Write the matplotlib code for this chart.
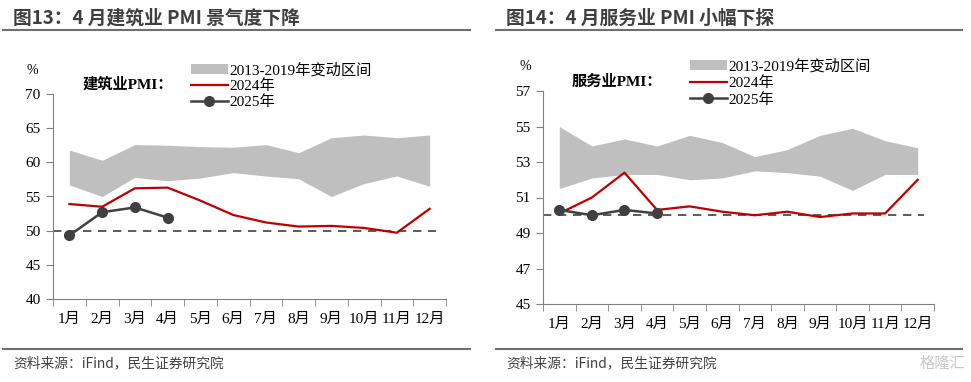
import matplotlib
matplotlib.use("Agg")
import matplotlib.pyplot as plt
import numpy as np
from matplotlib.lines import Line2D
from matplotlib.patches import Patch

plt.rcParams['font.family'] = ['Liberation Serif', 'Noto Sans CJK SC', 'DejaVu Sans']

months = ["1月", "2月", "3月", "4月", "5月", "6月", "7月", "8月", "9月", "10月", "11月", "12月"]

# 建筑业 PMI
con_hi = [61.8, 60.3, 62.6, 62.5, 62.3, 62.2, 62.6, 61.4, 63.6, 64.0, 63.6, 64.0]
con_lo = [56.7, 55.0, 57.8, 57.3, 57.7, 58.5, 58.0, 57.6, 55.0, 56.9, 58.0, 56.5]
con_2024 = [53.9, 53.5, 56.2, 56.3, 54.4, 52.3, 51.2, 50.6, 50.7, 50.4, 49.7, 53.2]
con_2025 = [49.3, 52.7, 53.4, 51.9]

# 服务业 PMI
ser_hi = [55.0, 53.9, 54.3, 53.9, 54.5, 54.1, 53.3, 53.7, 54.5, 54.9, 54.2, 53.8]
ser_lo = [51.5, 52.1, 52.3, 52.3, 52.0, 52.1, 52.5, 52.4, 52.2, 51.4, 52.3, 52.3]
ser_2024 = [50.1, 51.0, 52.4, 50.3, 50.5, 50.2, 50.0, 50.2, 49.9, 50.1, 50.1, 52.0]
ser_2025 = [50.3, 50.0, 50.3, 50.1]

threshold = 50

GRAY = "#bfbfbf"
RED = "#c00000"
DARK = "#404040"
W, H = 971, 382

fig = plt.figure(figsize=(W / 100, H / 100), dpi=100)


def px_axes(l, t, r, b):
    return fig.add_axes([l / W, 1 - b / H, (r - l) / W, (b - t) / H])


def draw_panel(ax, hi, lo, y24, y25, ylim, yticks):
    x = np.arange(len(months))
    ax.fill_between(x, lo, hi, color=GRAY, lw=0, zorder=1)
    ax.hlines(threshold, -0.5, 11.2, colors=DARK, linestyles=(0, (5, 4)), lw=1.2, zorder=2)
    ax.plot(x, y24, color=RED, lw=1.6, zorder=3)
    ax.plot(x[:len(y25)], y25, color=DARK, lw=1.8, marker="o", ms=7, zorder=4)
    ax.set_xlim(-0.5, 11.5)
    ax.set_ylim(*ylim)
    ax.set_yticks(yticks)
    ax.set_xticks(x)
    ax.set_xticklabels(months)
    ax.set_xticks(np.arange(-0.5, 12, 1), minor=True)
    ax.tick_params(axis="x", which="major", length=0, pad=10, labelsize=11)
    ax.tick_params(axis="x", which="minor", length=5, color="#808080", direction="out")
    ax.tick_params(axis="y", length=5, color="#808080", direction="out", labelsize=11, pad=4)
    for s in ["top", "right"]:
        ax.spines[s].set_visible(False)
    for s in ["left", "bottom"]:
        ax.spines[s].set_color("#808080")
    handles = [Patch(facecolor=GRAY, edgecolor="none"),
               Line2D([], [], color=RED, lw=1.6),
               Line2D([], [], color=DARK, lw=1.8, marker="o", ms=7)]
    labels = ["2013-2019年变动区间", "2024年", "2025年"]
    return handles, labels


# left panel
ax1 = px_axes(53, 94, 446, 299)
h, l = draw_panel(ax1, con_hi, con_lo, con_2024, con_2025, (40, 70), range(40, 71, 5))
fig.legend(h, l, loc="upper left", bbox_to_anchor=(191 / W, 1 - 63 / H), frameon=False,
           fontsize=11, handlelength=2.4, handletextpad=0.1, labelspacing=0.12, borderpad=0,
           borderaxespad=0)
fig.text(26 / W, 1 - 70 / H, "%", fontsize=10, va="center", ha="left")
fig.text(83 / W, 1 - 84 / H, "建筑业PMI：", fontsize=11, fontweight="bold", va="center", ha="left")

# right panel
ax2 = px_axes(543, 91, 934, 304)
h, l = draw_panel(ax2, ser_hi, ser_lo, ser_2024, ser_2025, (45, 57), range(45, 58, 2))
fig.legend(h, l, loc="upper left", bbox_to_anchor=(690 / W, 1 - 59 / H), frameon=False,
           fontsize=11, handlelength=2.4, handletextpad=0.1, labelspacing=0.18, borderpad=0,
           borderaxespad=0)
fig.text(519 / W, 1 - 67 / H, "%", fontsize=10, va="center", ha="left")
fig.text(572 / W, 1 - 82 / H, "服务业PMI：", fontsize=11, fontweight="bold", va="center", ha="left")

# titles, rules and sources
sans = ["Noto Sans CJK SC", "DejaVu Sans"]
fig.text(13 / W, 1 - 18 / H, "图13：4 月建筑业 PMI 景气度下降", fontsize=13.5, fontweight="bold",
         color="#3f3f3f", family=sans, va="center")
fig.text(506 / W, 1 - 18 / H, "图14：4 月服务业 PMI 小幅下探", fontsize=13.5, fontweight="bold",
         color="#3f3f3f", family=sans, va="center")
for x0, x1 in [(3, 470), (496, 962)]:
    for yy in (30, 349):
        fig.add_artist(Line2D([x0 / W, x1 / W], [1 - yy / H, 1 - yy / H], color="#6f6f6f", lw=1.5))
fig.text(13 / W, 1 - 363 / H, "资料来源：iFind，民生证券研究院", fontsize=9.9, color="#404040",
         family=sans, va="center")
fig.text(506 / W, 1 - 363 / H, "资料来源：iFind，民生证券研究院", fontsize=9.9, color="#404040",
         family=sans, va="center")
fig.text(965 / W, 1 - 363 / H, "格隆汇", fontsize=11, color="#c8c8c8", family=sans, va="center",
         ha="right")

fig.savefig("out.png", dpi=100)
